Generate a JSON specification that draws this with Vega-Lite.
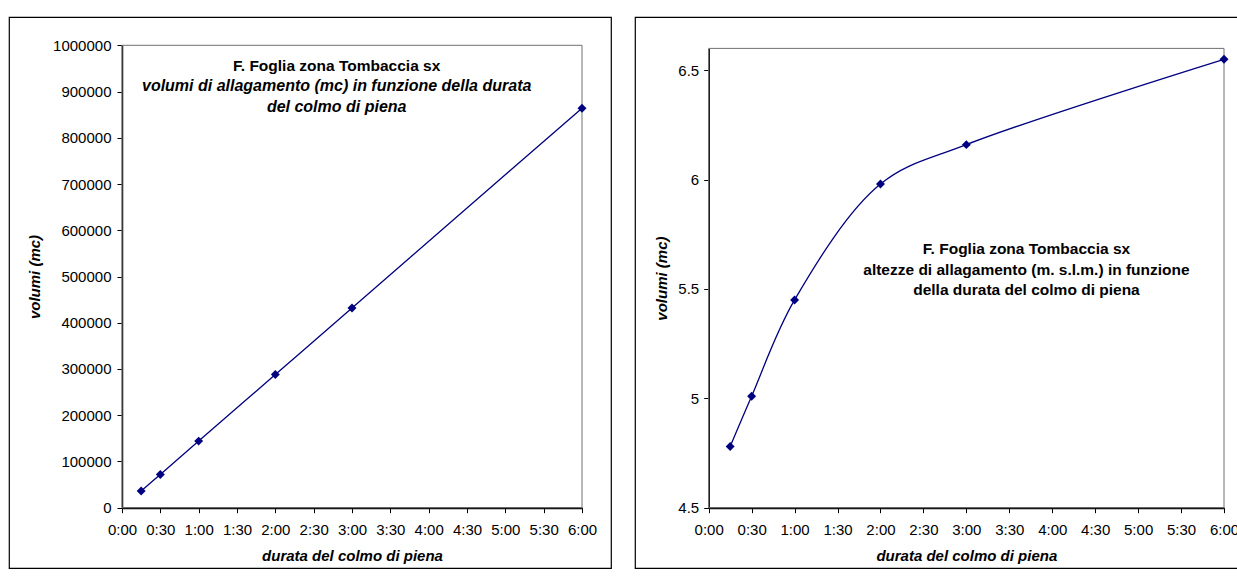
{
  "$schema": "https://vega.github.io/schema/vega-lite/v6.json",
  "padding": {"left": 8, "top": 16, "right": 0, "bottom": 0},
  "background": "white",
  "data": {"values": [
    {"min": 15, "vol": 36000, "alt": 4.78},
    {"min": 30, "vol": 72000, "alt": 5.01},
    {"min": 60, "vol": 144000, "alt": 5.45},
    {"min": 120, "vol": 288000, "alt": 5.98},
    {"min": 180, "vol": 432000, "alt": 6.16},
    {"min": 360, "vol": 864000, "alt": 6.55}
  ]},
  "spacing": 22,
  "hconcat": [
    {
      "width": 602,
      "height": 551,
      "view": {"stroke": "black", "strokeWidth": 1.2},
      "encoding": {
        "x": {"field": "min", "type": "quantitative",
          "scale": {"domain": [0, 360], "range": [113, 573], "nice": false, "zero": false},
          "axis": {"values": [0,30,60,90,120,150,180,210,240,270,300,330,360],
            "labelExpr": "floor(datum.value/60) + ':' + (datum.value % 60 < 10 ? '0' : '') + (datum.value % 60)",
            "offset": -60.3, "title": "durata del colmo di piena", "titleY": 41, "titleBaseline": "top",
            "domainWidth": 2, "labelPadding": 10}},
        "y": {"field": "vol", "type": "quantitative",
          "scale": {"domain": [0, 1000000], "range": [490.7, 28.3], "nice": false, "zero": false},
          "axis": {"values": [0,100000,200000,300000,400000,500000,600000,700000,800000,900000,1000000],
            "format": "d", "offset": -113, "title": "volumi (mc)", "titleX": -88, "titleBaseline": "middle",
            "domainWidth": 1.5, "labelPadding": 6}}
      },
      "layer": [
        {"transform": [{"filter": "datum.min == 360"}],
         "mark": {"type": "rect", "fillOpacity": 0, "stroke": "#707070", "strokeWidth": 1},
         "encoding": {"x": {"datum": 0, "type": "quantitative"}, "x2": {"datum": 360},
                      "y": {"datum": 0, "type": "quantitative"}, "y2": {"datum": 1000000}}},
        {"mark": {"type": "line", "interpolate": "catmull-rom", "color": "#000080", "strokeWidth": 1.3}},
        {"mark": {"type": "point", "shape": "diamond", "filled": true, "size": 80, "color": "#000080", "opacity": 1}},
        {"transform": [{"filter": "datum.min == 360"}],
         "mark": {"type": "text", "text": "F. Foglia zona Tombaccia sx", "fontSize": 15.5, "fontWeight": "bold", "align": "center", "baseline": "middle"},
         "encoding": {"x": {"datum": 168, "type": "quantitative"}, "y": {"datum": 955000, "type": "quantitative"}}},
        {"transform": [{"filter": "datum.min == 360"}],
         "mark": {"type": "text", "text": "volumi di allagamento (mc) in funzione della durata", "fontSize": 16, "fontWeight": "bold", "fontStyle": "italic", "align": "center", "baseline": "middle"},
         "encoding": {"x": {"datum": 168, "type": "quantitative"}, "y": {"datum": 911000, "type": "quantitative"}}},
        {"transform": [{"filter": "datum.min == 360"}],
         "mark": {"type": "text", "text": "del colmo di piena", "fontSize": 16, "fontWeight": "bold", "fontStyle": "italic", "align": "center", "baseline": "middle"},
         "encoding": {"x": {"datum": 168, "type": "quantitative"}, "y": {"datum": 867500, "type": "quantitative"}}}
      ]
    },
    {
      "width": 612,
      "height": 551,
      "view": {"stroke": "black", "strokeWidth": 1.2},
      "encoding": {
        "x": {"field": "min", "type": "quantitative",
          "scale": {"domain": [0, 360], "range": [73.7, 589], "nice": false, "zero": false},
          "axis": {"values": [0,30,60,90,120,150,180,210,240,270,300,330,360],
            "labelExpr": "floor(datum.value/60) + ':' + (datum.value % 60 < 10 ? '0' : '') + (datum.value % 60)",
            "offset": -60.3, "title": "durata del colmo di piena", "titleY": 41, "titleBaseline": "top",
            "domainWidth": 2, "labelPadding": 10}},
        "y": {"field": "alt", "type": "quantitative",
          "scale": {"domain": [4.5, 6.6], "range": [490.7, 31.4], "nice": false, "zero": false},
          "axis": {"values": [4.5, 5, 5.5, 6, 6.5],
            "format": "~g", "offset": -73.7, "title": "volumi (mc)", "titleX": -47.5, "titleBaseline": "middle",
            "domainWidth": 1.5, "labelPadding": 5}}
      },
      "layer": [
        {"transform": [{"filter": "datum.min == 360"}],
         "mark": {"type": "rect", "fillOpacity": 0, "stroke": "#707070", "strokeWidth": 1},
         "encoding": {"x": {"datum": 0, "type": "quantitative"}, "x2": {"datum": 360},
                      "y": {"datum": 4.5, "type": "quantitative"}, "y2": {"datum": 6.6}}},
        {"mark": {"type": "line", "interpolate": "catmull-rom", "color": "#000080", "strokeWidth": 1.3}},
        {"mark": {"type": "point", "shape": "diamond", "filled": true, "size": 80, "color": "#000080", "opacity": 1}},
        {"transform": [{"filter": "datum.min == 360"}],
         "mark": {"type": "text", "text": "F. Foglia zona Tombaccia sx", "fontSize": 15.5, "fontWeight": "bold", "align": "center", "baseline": "middle"},
         "encoding": {"x": {"datum": 222, "type": "quantitative"}, "y": {"datum": 5.683, "type": "quantitative"}}},
        {"transform": [{"filter": "datum.min == 360"}],
         "mark": {"type": "text", "text": "altezze di allagamento (m. s.l.m.) in funzione", "fontSize": 15.5, "fontWeight": "bold", "align": "center", "baseline": "middle"},
         "encoding": {"x": {"datum": 222, "type": "quantitative"}, "y": {"datum": 5.589, "type": "quantitative"}}},
        {"transform": [{"filter": "datum.min == 360"}],
         "mark": {"type": "text", "text": "della durata del colmo di piena", "fontSize": 15.5, "fontWeight": "bold", "align": "center", "baseline": "middle"},
         "encoding": {"x": {"datum": 222, "type": "quantitative"}, "y": {"datum": 5.495, "type": "quantitative"}}}
      ]
    }
  ],
  "config": {
    "font": "Liberation Sans",
    "axis": {
      "domainColor": "black", "tickColor": "black", "tickSize": 5, "tickWidth": 1,
      "labelColor": "black", "labelFont": "Liberation Sans", "labelFontSize": 15,
      "labelOverlap": false, "labelFlush": false,
      "titleColor": "black", "titleFont": "Liberation Sans", "titleFontSize": 15,
      "titleFontWeight": "bold", "titleFontStyle": "italic", "grid": false, "zindex": 1
    },
    "text": {"color": "black", "font": "Liberation Sans"}
  }
}
